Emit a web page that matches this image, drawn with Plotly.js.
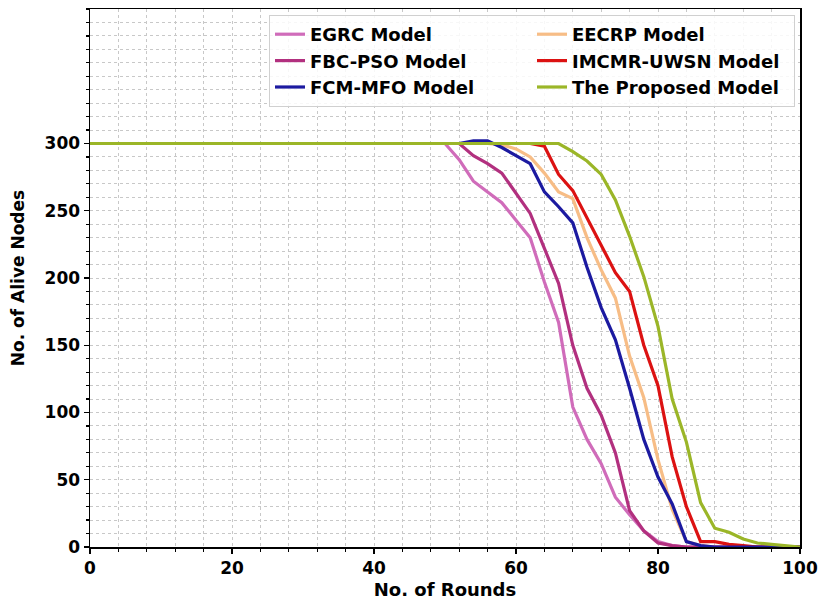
<!DOCTYPE html>
<html>
<head>
<meta charset="utf-8">
<script src="https://cdn.plot.ly/plotly-3.0.1.min.js"></script>
<style>html,body{margin:0;padding:0;background:#fff;}#chart{width:819px;height:603px;}</style>
</head>
<body>
<div id="chart"></div>
<script>
const rounds = [0,48,50,52,54,56,58,60,62,64,66,68,70,72,74,76,78,80,82,84,86,88,90,92,94,96,98,100];

const egrc     = [300,300,300,288,272,264,256,243,230,197,167,104,80,62,37,24,12,4,1,0,0,0,0,0,0,0,0,0];
const fbcpso   = [300,300,300,300,291,285,278,263,248,222,196,150,118,98,70,27,12,3,1,0,0,0,0,0,0,0,0,0];
const fcmmfo   = [300,300,300,300,302,302,297,291,285,264,253,241,208,178,154,118,80,52,32,4,1,0,0,0,0,0,0,0];
const eecrp    = [300,300,300,300,300,300,299,296,290,278,264,259,230,206,185,142,111,65,28,4,1,0,0,0,0,0,0,0];
const imcmr    = [300,300,300,300,300,300,300,300,300,298,277,265,245,224,204,190,150,120,67,30,4,4,2,1,0,0,0,0];
const proposed = [300,300,300,300,300,300,300,300,300,300,300,294,287,277,258,231,201,164,110,78,33,14,11,6,3,2,1,0];

const seriesNames = ["EGRC Model","EECRP Model","FBC-PSO Model","IMCMR-UWSN Model","FCM-MFO Model","The Proposed Model"];
const seriesData  = [egrc, eecrp, fbcpso, imcmr, fcmmfo, proposed];
const seriesColors = ["#d06cba","#f7bd86","#b2307f","#dc1212","#1c1aa0","#9bb628"];

const traces = seriesNames.map((n,i)=>({
  x: rounds, y: seriesData[i], name: n, type:'scatter', mode:'lines',
  line:{color: seriesColors[i], width:3.2}, cliponaxis:false
}));

const fnt = {family:'DejaVu Sans, Verdana, sans-serif', color:'#000', weight:'bold'};
const gridc = '#c8c8c8';

const layout = {
  width:819, height:603,
  margin:{l:90, r:19, t:9, b:56},
  paper_bgcolor:'#fff', plot_bgcolor:'#fff',
  showlegend:true,
  legend:{
    orientation:'h', xanchor:'right', yanchor:'top',
    x: 1-5/710, y: 1-6/538,
    entrywidth: 217, entrywidthmode:'pixels',
    bgcolor:'rgba(255,255,255,0.85)', bordercolor:'#d0d0d0', borderwidth:1,
    font:Object.assign({}, fnt, {size:18}),
    traceorder:'normal'
  },
  xaxis:{
    range:[0,100], tickmode:'linear', tick0:0, dtick:20,
    ticks:'outside', ticklen:5, tickwidth:1.2, tickcolor:'#000',
    showline:true, linecolor:'#000', linewidth:1.5, mirror:true,
    showgrid:true, gridcolor:gridc, griddash:'dot', gridwidth:1,
    zeroline:false,
    tickfont:Object.assign({}, fnt, {size:17}),
    title:{text:'No. of Rounds', font:Object.assign({}, fnt, {size:18}), standoff:6},
    minor:{tickmode:'linear', tick0:0, dtick:4, ticks:'outside', ticklen:3, tickcolor:'#000', showgrid:true, gridcolor:gridc, griddash:'dot', gridwidth:1}
  },
  yaxis:{
    range:[0,400], tickmode:'array', tickvals:[0,50,100,150,200,250,300], ticktext:['0','50','100','150','200','250','300'],
    ticks:'outside', ticklen:5, tickwidth:1.2, tickcolor:'#000',
    showline:true, linecolor:'#000', linewidth:1.5, mirror:true,
    showgrid:true, gridcolor:gridc, griddash:'dot', gridwidth:1,
    zeroline:false,
    tickfont:Object.assign({}, fnt, {size:17}),
    title:{text:'No. of Alive Nodes', font:Object.assign({}, fnt, {size:17}), standoff:15},
    minor:{tickmode:'linear', tick0:0, dtick:10, ticks:'outside', ticklen:3, tickcolor:'#000', showgrid:true, gridcolor:gridc, griddash:'dot', gridwidth:1}
  }
};

Plotly.newPlot('chart', traces, layout, {displayModeBar:false, staticPlot:true});
</script>
</body>
</html>
